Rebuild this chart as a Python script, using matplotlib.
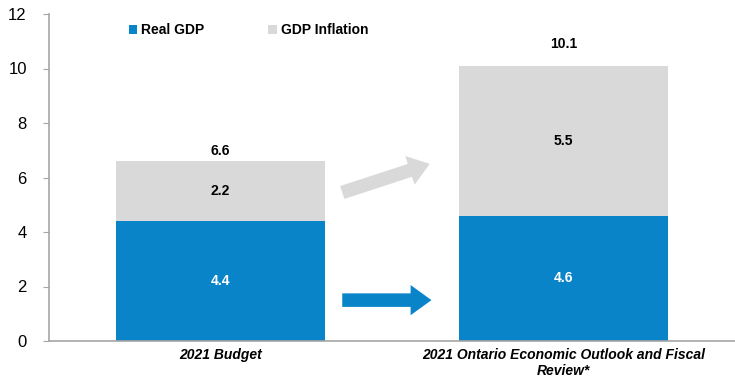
import matplotlib
matplotlib.use("Agg")
import matplotlib.pyplot as plt
import numpy as np

plt.rcParams["font.family"] = ["Liberation Sans", "DejaVu Sans"]

categories = ["2021 Budget", "2021 Ontario Economic Outlook and Fiscal\nReview*"]
real_gdp = [4.4, 4.6]
gdp_inflation = [2.2, 5.5]
totals = [6.6, 10.1]

blue = "#0A84C8"
grey = "#D9D9D9"
axis_grey = "#A6A6A6"

fig = plt.figure(figsize=(7.35, 3.83), dpi=100)
ax = fig.add_axes([49 / 735, 1 - 341 / 383, 686 / 735, 327 / 383])

x = np.arange(len(categories))
width = 0.607
ax.bar(x, real_gdp, width, color=blue, label="Real GDP")
ax.bar(x, gdp_inflation, width, bottom=real_gdp, color=grey, label="GDP Inflation")

# value labels
total_pad = [0.37, 0.8]
for i in range(len(categories)):
    ax.text(x[i], real_gdp[i] / 2, f"{real_gdp[i]:.1f}", ha="center", va="center",
            color="white", fontsize=10, fontweight="bold")
    ax.text(x[i], real_gdp[i] + gdp_inflation[i] / 2, f"{gdp_inflation[i]:.1f}",
            ha="center", va="center", color="black", fontsize=10, fontweight="bold")
    ax.text(x[i], totals[i] + total_pad[i], f"{totals[i]:.1f}", ha="center", va="center",
            color="black", fontsize=10, fontweight="bold")

# arrows between the bars
style = "simple,head_length=1.0,head_width=1.45,tail_width=0.65"
ax.annotate("", xy=(0.61, 6.5), xytext=(0.355, 5.45),
            arrowprops=dict(arrowstyle=style, color=grey, lw=0, mutation_scale=15,
                            shrinkA=0, shrinkB=0))
ax.annotate("", xy=(0.615, 1.5), xytext=(0.355, 1.5),
            arrowprops=dict(arrowstyle=style, color=blue, lw=0, mutation_scale=15,
                            shrinkA=0, shrinkB=0))

ax.set_xlim(-0.5, 1.5)
ax.set_ylim(0, 12)
ax.set_yticks(range(0, 13, 2))
ax.set_xticks(x)
ax.set_xticklabels(categories, fontsize=10, fontweight="bold", fontstyle="italic")
ax.tick_params(axis="x", length=0, pad=5)
ax.tick_params(axis="y", length=4, color=axis_grey, labelsize=12, pad=12)

for side in ["top", "right"]:
    ax.spines[side].set_visible(False)
for side in ["left", "bottom"]:
    ax.spines[side].set_color(axis_grey)
    ax.spines[side].set_linewidth(1.2)

ax.legend(loc="upper left", bbox_to_anchor=(0.098, 1.01), ncol=2, frameon=False,
          prop={"weight": "bold", "size": 10}, handlelength=0.6, handleheight=0.6,
          handletextpad=0.3, columnspacing=4.6)

fig.savefig("out.png", dpi=100)
